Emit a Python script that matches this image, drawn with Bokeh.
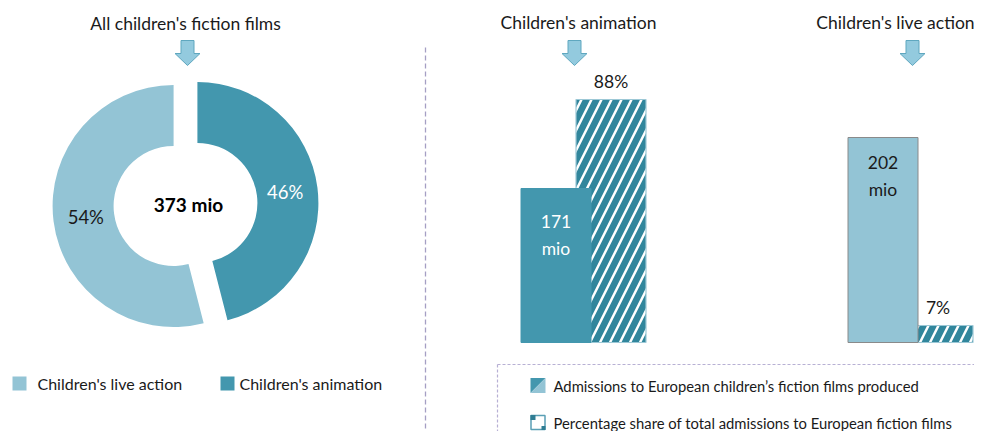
import numpy as np
from bokeh.plotting import figure
from bokeh.models import Range1d
from bokeh.core.properties import value
from bokeh.embed import file_html
from bokeh.resources import INLINE

# ---------------- data ----------------
donut_title = "All children's fiction films"
donut_segments = ["Children's animation", "Children's live action"]
donut_shares = [46, 54]
donut_labels = ["46%", "54%"]
donut_total_label = "373 mio"

bar_groups = ["Children's animation", "Children's live action"]
bar_admissions = [171, 202]
bar_admission_labels = ["171\nmio", "202\nmio"]
bar_pct = [88, 7]
bar_pct_labels = ["88%", "7%"]

legend_left = ["Children's live action", "Children's animation"]
legend_right = ["Admissions to European children\u2019s fiction films produced",
                "Percentage share of total admissions to European fiction  films"]

# ---------------- style ----------------
DARK = "#4397ae"
LIGHT = "#93c4d5"
HATCH = "#31869c"
TXT = "#1a1a1a"
FONT = "Lato"
W, H = 974, 431


def Y(sy):
    # picture y (from top) -> data y
    return H - sy


p = figure(width=W, height=H, x_range=Range1d(0, W), y_range=Range1d(0, H),
           x_axis_type=None, y_axis_type=None, toolbar_location=None,
           output_backend="svg", min_border=0, outline_line_color=None,
           background_fill_color="white", border_fill_color="white")
p.grid.visible = False


def txt(x, y, s, size=15, color=TXT, align="center", baseline="middle", style="normal", **kw):
    p.text(x=[x], y=[y], text=[s], text_font=value(FONT), text_font_size=f"{size}px",
           text_color=color, text_align=align, text_baseline=baseline,
           text_font_style=style, **kw)


def arrow(cx, top_sy):
    xs = [cx - 6.5, cx + 6.5, cx + 6.5, cx + 12.5, cx, cx - 12.5, cx - 6.5]
    ys = [Y(top_sy), Y(top_sy), Y(top_sy + 13), Y(top_sy + 13), Y(top_sy + 25),
          Y(top_sy + 13), Y(top_sy + 13)]
    p.patch(xs, ys, fill_color="#93cade", line_color="#5fa7bf", line_width=1)


# ---------------- donut ----------------
cx, cy = 185, Y(204)
R_OUT, R_IN, EXPLODE = 121, 60, 12
colors = {"Children's animation": DARK, "Children's live action": LIGHT}
label_colors = {"Children's animation": "white", "Children's live action": TXT}
cum = 0.0
for name, share, lab in zip(donut_segments, donut_shares, donut_labels):
    c0 = cum / sum(donut_shares) * 360
    cum += share
    c1 = cum / sum(donut_shares) * 360
    a_start = np.deg2rad(90 - c1)
    a_end = np.deg2rad(90 - c0)
    mid = np.deg2rad(90 - (c0 + c1) / 2)
    ox, oy = EXPLODE * np.cos(mid), EXPLODE * np.sin(mid)
    p.annular_wedge(x=[cx + ox], y=[cy + oy], inner_radius=R_IN, outer_radius=R_OUT,
                    start_angle=[a_start], end_angle=[a_end],
                    fill_color=colors[name], line_color=None)
    lr = (R_IN + R_OUT) / 2 + 10
    txt(cx + lr * np.cos(mid), cy + lr * np.sin(mid), lab, size=18.5, color=label_colors[name])

txt(cx + 3, cy, donut_total_label, size=19, style="bold", color="black")
txt(185, Y(23), donut_title, size=17.5)
arrow(187, 40)

# ---------------- separator ----------------
p.segment(x0=[425], y0=[Y(47)], x1=[425], y1=[Y(450)], line_color="#a59fc4",
          line_width=1.3, line_dash="5 3")

# ---------------- bars ----------------
group_centers = [583, 910]
title_x = [578, 895]
arrow_x = [574, 912]
BAR_W = 70
SHIFT = 27.5
BASE_SY = 342
# pixels per unit for each chart's own axis
adm_ppu = [154 / 171, 205 / 202]
pct_ppu = [243 / 88, 17 / 7]
adm_label_off = [22, 14]
adm_label_col = ["white", TXT]
adm_fill = [DARK, LIGHT]
adm_line = [DARK, "#8a8a8a"]


def make_range(ppu):
    start = -(H - BASE_SY) / ppu
    return Range1d(start, start + H / ppu)


for i, g in enumerate(bar_groups):
    rn_a, rn_p = f"adm{i}", f"pct{i}"
    p.extra_y_ranges[rn_a] = make_range(adm_ppu[i])
    p.extra_y_ranges[rn_p] = make_range(pct_ppu[i])
    xa = group_centers[i] - SHIFT
    xp = group_centers[i] + SHIFT
    p.vbar(x=[xp], width=BAR_W, top=[bar_pct[i]], bottom=0, y_range_name=rn_p,
           fill_color="white", hatch_pattern="/", hatch_color=HATCH, hatch_weight=6.5,
           hatch_scale=20, line_color="#9cc8d6", line_width=1.2)
    p.vbar(x=[xa], width=BAR_W, top=[bar_admissions[i]], bottom=0, y_range_name=rn_a,
           fill_color=adm_fill[i], line_color=adm_line[i], line_width=1)
    p.text(x=[xa], y=[bar_admissions[i]], text=[bar_admission_labels[i]], y_range_name=rn_a,
           y_offset=adm_label_off[i], text_font=value(FONT), text_font_size="17.5px",
           text_color=adm_label_col[i], text_align="center", text_baseline="top",
           text_line_height=1.3)
    p.text(x=[xp], y=[bar_pct[i]], text=[bar_pct_labels[i]], y_range_name=rn_p,
           y_offset=-8, text_font=value(FONT), text_font_size="17.5px",
           text_color=TXT, text_align="center", text_baseline="bottom")
    txt(title_x[i], Y(22), g, size=17.5)
    arrow(arrow_x[i], 40)

# ---------------- left legend ----------------
for sx, tx, name in [(12, 37, legend_left[0]), (220, 239, legend_left[1])]:
    p.quad(left=[sx], right=[sx + 14], top=[Y(376)], bottom=[Y(390)],
           fill_color=colors[name], line_color=None)
    txt(tx, Y(383), name, size=16, align="left")

# ---------------- right legend ----------------
L1, L2 = 385, 422
p.segment(x0=[497, 497], y0=[Y(364), Y(364)], x1=[W, 497], y1=[Y(364), Y(450)],
          line_color="#b7b0d4", line_width=1.2, line_dash="3 2")
# icon 1: split square
p.patch([530, 545, 530], [Y(L1 - 7.5), Y(L1 - 7.5), Y(L1 + 7.5)], fill_color=DARK, line_color=None)
p.patch([545, 545, 530], [Y(L1 - 7.5), Y(L1 + 7.5), Y(L1 + 7.5)], fill_color=LIGHT, line_color=None)
# icon 2: outlined square with corner marks
p.quad(left=[530.5], right=[544.5], top=[Y(L2 - 7)], bottom=[Y(L2 + 7)],
       fill_color="white", line_color="#5a9fb5", line_width=1.5)
p.quad(left=[530], right=[535], top=[Y(L2 - 7.5)], bottom=[Y(L2 - 2.5)], fill_color="#2f7d93", line_color=None)
p.quad(left=[541], right=[545], top=[Y(L2 + 3.5)], bottom=[Y(L2 + 7.5)], fill_color="#2f7d93", line_color=None)
txt(553, Y(L1), legend_right[0], size=14.8, align="left")
txt(553, Y(L2), legend_right[1], size=14.8, align="left")

open("out.html", "w").write(file_html(p, INLINE))
